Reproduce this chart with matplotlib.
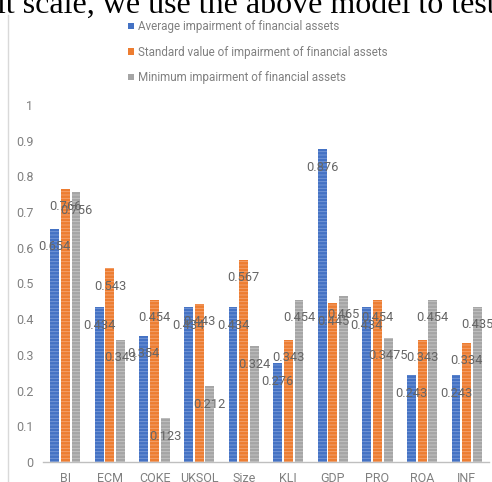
"""Grouped bar chart: impairment of financial assets by variable."""

import matplotlib
matplotlib.use("Agg")
import matplotlib.pyplot as plt
from matplotlib.lines import Line2D
from matplotlib.patches import Patch
import numpy as np


categories = ["BI", "ECM", "COKE", "UKSOL", "Size", "KLI", "GDP", "PRO", "ROA", "INF"]
average_vals = [0.654, 0.434, 0.354, 0.434, 0.434, 0.276, 0.876, 0.434, 0.243, 0.243]
standard_vals = [0.766, 0.543, 0.454, 0.443, 0.567, 0.343, 0.445, 0.454, 0.343, 0.334]
minimum_vals = [0.756, 0.343, 0.123, 0.212, 0.324, 0.454, 0.465, 0.3475, 0.454, 0.435]
series_names = [
	"Average impairment of financial assets",
	"Standard value of impairment of financial assets",
	"Minimum impairment of financial assets",
]
y_ticks = [0, 0.1, 0.2, 0.3, 0.4, 0.5, 0.6, 0.7, 0.8, 0.9, 1]
y_tick_labels = ["0", "0.1", "0.2", "0.3", "0.4", "0.5", "0.6", "0.7", "0.8", "0.9", "1"]
caption_text = "it scale, we use the above model to test"

COLORS = ["#4472C4", "#ED7D31", "#A5A5A5"]
STRIPES = ["#7a9bd8", "#f4a574", "#c6c6c6"]
W, H, DPI = 492, 482, 100

plt.rcParams["font.family"] = ["Roboto", "DejaVu Sans"]
plt.rcParams["hatch.linewidth"] = 0.6

fig = plt.figure(figsize=(W / DPI, H / DPI), dpi=DPI)
fig.patch.set_facecolor("white")

# cropped line of body text above the chart
fig.text(-3 / W, 1 - 12.5 / H, caption_text, family="Liberation Serif",
	fontsize=23, color="black", va="baseline", ha="left")

# chart border on the left
fig.add_artist(Line2D([8 / W, 8 / W], [0, 1 - 15 / H], transform=fig.transFigure,
	color="#d9d9d9", linewidth=1))

ax = fig.add_axes([43 / W, 20 / H, 446 / W, 357 / H])
x = np.arange(len(categories))
bar_w = 0.2
step = 0.24

all_series = [average_vals, standard_vals, minimum_vals]
for i, vals in enumerate(all_series):
	pos = x + (i - 1) * step
	bars = ax.bar(pos, vals, width=bar_w, color=COLORS[i], edgecolor=STRIPES[i],
		linewidth=0, hatch="-----", zorder=2)
	for b, v in zip(bars, vals):
		ax.annotate(f"{v:g}", (b.get_x() + b.get_width() / 2, v),
			xytext=(0, -13), textcoords="offset points", ha="center", va="center",
			fontsize=9.3, color="#666666", zorder=5, annotation_clip=False)

ax.set_xlim(-0.5, len(categories) - 0.5)
ax.set_ylim(0, 1)
ax.set_yticks(y_ticks)
ax.set_yticklabels(y_tick_labels)
ax.set_xticks(x)
ax.set_xticklabels(categories)
ax.tick_params(axis="y", length=0, pad=7, labelsize=9, labelcolor="#808080")
ax.tick_params(axis="x", length=0, pad=7, labelsize=9, labelcolor="#808080")
for side in ["top", "right", "left"]:
	ax.spines[side].set_visible(False)
ax.spines["bottom"].set_color("#bfbfbf")
ax.spines["bottom"].set_linewidth(1)

handles = [Patch(facecolor=c, edgecolor="none") for c in COLORS]
ax.legend(handles, series_names, loc="upper left",
	bbox_to_anchor=(128 / W, 1 - 20 / H), bbox_transform=fig.transFigure,
	frameon=False, fontsize=8.4, labelcolor="#808080",
	handlelength=0.5, handleheight=0.5, handletextpad=0.4,
	labelspacing=1.08, borderpad=0, borderaxespad=0)

fig.savefig("out.png", dpi=DPI)
